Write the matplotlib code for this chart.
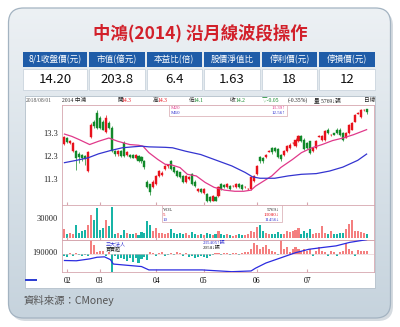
import numpy as np
import matplotlib
matplotlib.use('Agg')
import matplotlib.pyplot as plt
from matplotlib.patches import FancyBboxPatch, Rectangle
from matplotlib.colors import LinearSegmentedColormap

plt.rcParams['font.family'] = ['Noto Sans CJK TC', 'DejaVu Sans']

# summary table
headers = ['8/1收盤價(元)', '市值(億元)', '本益比(倍)', '股價淨值比', '停利價(元)', '停損價(元)']
values = ['14.20', '203.8', '6.4', '1.63', '18', '12']

# daily candles, late Jan 2018 -> 2018/08/01
opens = [12.80, 13.05, 12.85, 12.50, 12.50, 12.40, 12.35, 12.30, 11.65, 13.13,
         13.78, 14.15, 13.94, 13.78, 13.34, 13.73, 13.50, 12.50, 12.37, 12.50,
         12.87, 12.32, 12.36, 12.35, 12.20, 12.30, 12.24, 12.08, 11.20, 11.09,
         10.96, 11.09, 11.44, 11.50, 11.73, 11.87, 12.07, 11.81, 11.65, 11.60,
         11.43, 11.17, 11.30, 11.51, 11.20, 10.80, 10.87, 10.70, 10.66, 10.53,
         10.38, 10.53, 10.58, 11.09, 11.05, 10.96, 11.00, 11.00, 10.96, 11.09,
         11.05, 10.96, 10.87, 10.87, 11.23, 11.51, 12.24, 12.20, 12.24, 12.48,
         12.66, 12.66, 12.58, 12.36, 12.36, 12.50, 12.65, 12.85, 12.72, 12.93,
         13.14, 13.00, 12.87, 12.93, 12.50, 12.65, 13.13, 13.00, 13.00, 13.43,
         13.20, 13.27, 13.43, 13.43, 13.29, 13.07, 13.29, 13.43, 13.78, 14.12,
         13.99, 14.27, 14.30]
closes = [13.10, 12.90, 12.95, 12.87, 12.20, 12.25, 12.20, 12.15, 12.48, 13.64,
          13.57, 13.50, 13.50, 13.43, 13.94, 13.50, 12.50, 12.37, 12.50, 12.30,
          12.28, 12.45, 12.25, 12.23, 12.36, 12.08, 12.08, 11.81, 10.96, 10.75,
          11.20, 11.43, 11.65, 11.58, 11.85, 11.92, 11.73, 11.60, 11.44, 11.38,
          11.17, 11.43, 11.40, 11.09, 11.00, 10.87, 10.75, 10.87, 10.36, 10.36,
          10.59, 10.38, 10.96, 10.87, 10.96, 11.09, 10.87, 11.00, 11.09, 10.96,
          10.87, 10.97, 10.88, 11.38, 11.44, 11.87, 12.08, 12.08, 12.36, 12.50,
          12.45, 12.50, 12.24, 12.15, 12.50, 12.72, 12.79, 12.86, 13.00, 13.14,
          12.93, 12.58, 12.65, 12.44, 12.65, 12.93, 13.14, 13.14, 13.36, 13.29,
          13.21, 13.22, 13.29, 13.20, 13.00, 13.29, 13.64, 13.71, 14.06, 14.14,
          14.28, 14.28, 14.20]
highs = [13.15, 13.10, 13.00, 12.90, 12.55, 12.45, 12.40, 12.35, 12.50, 13.70,
         13.85, 14.28, 14.00, 13.85, 14.05, 13.80, 13.60, 12.55, 12.55, 12.55,
         12.95, 12.50, 12.40, 12.40, 12.40, 12.35, 12.30, 12.12, 11.25, 11.10,
         11.25, 11.50, 11.70, 11.65, 11.90, 11.95, 12.12, 11.85, 11.70, 11.62,
         11.48, 11.48, 11.45, 11.55, 11.25, 10.92, 10.90, 10.92, 10.70, 10.58,
         10.62, 10.56, 11.00, 11.15, 11.10, 11.12, 11.05, 11.05, 11.12, 11.12,
         11.10, 11.00, 10.92, 11.42, 11.50, 11.92, 12.30, 12.25, 12.40, 12.55,
         12.70, 12.70, 12.62, 12.40, 12.55, 12.75, 12.85, 12.90, 13.05, 13.20,
         13.20, 13.05, 12.90, 12.95, 12.70, 12.98, 13.20, 13.20, 13.40, 13.48,
         13.25, 13.30, 13.48, 13.48, 13.32, 13.32, 13.68, 13.75, 14.10, 14.20,
         14.30, 14.30, 14.30]
lows = [12.75, 12.85, 12.80, 12.45, 11.70, 12.00, 12.10, 11.90, 11.60, 13.05,
        13.50, 13.45, 13.45, 13.40, 13.30, 13.45, 12.45, 12.30, 12.30, 12.25,
        12.25, 12.28, 12.20, 12.20, 12.15, 12.05, 12.00, 11.75, 10.90, 10.60,
        10.90, 11.05, 11.40, 11.45, 11.70, 11.80, 11.70, 11.55, 11.40, 11.35,
        11.12, 11.15, 11.25, 11.05, 10.95, 10.75, 10.70, 10.65, 10.30, 10.30,
        10.35, 10.35, 10.55, 10.85, 10.90, 10.92, 10.85, 10.95, 10.92, 10.92,
        10.85, 10.92, 10.85, 10.85, 11.20, 11.50, 12.00, 12.00, 12.20, 12.45,
        12.40, 12.45, 12.20, 12.10, 12.30, 12.45, 12.60, 12.80, 12.70, 12.90,
        12.90, 12.55, 12.60, 12.40, 12.45, 12.60, 13.10, 12.95, 12.95, 13.25,
        13.15, 13.18, 13.25, 13.15, 12.95, 13.05, 13.25, 13.40, 13.75, 14.10,
        13.95, 14.25, 14.10]
volumes = [13300, 5900, 7400, 5900, 19200, 7400, 10300, 11800, 19200, 34000,
           26600, 44300, 11800, 14800, 26600, 17700, 45800, 5900, 7400, 4400,
           11800, 7400, 5900, 5900, 7400, 4400, 8900, 7400, 25100, 19200,
           10300, 14800, 7400, 7400, 5900, 7400, 13300, 7400, 5900, 7400,
           5900, 7400, 4400, 8900, 5900, 4400, 5900, 4400, 7400, 5900,
           4400, 5900, 10300, 5900, 4400, 5900, 4400, 3000, 4400, 5900,
           4400, 4400, 5900, 10300, 8900, 16300, 19200, 10300, 7400, 5900,
           5900, 5900, 8900, 5900, 5900, 10300, 8900, 10300, 11800, 14800,
           5900, 10300, 7400, 13300, 5900, 7400, 7400, 17700, 7400, 5900,
           10300, 5900, 5900, 7400, 7400, 13300, 20700, 26600, 10300, 10300,
           8900, 7400, 5769]
# institutional net buy/sell (lots)
chip_net = [-1400, -2100, 700, -1400, 700, -700, -1400, -700, -1400, 9100,
            5600, 1400, 2100, 2100, -1400, 2100, -13300, -1400, -3500, -2800,
            -3500, -4900, -2800, -5600, -2800, -6300, -3500, -2100, -4200, 2100,
            700, -1400, 700, 1400, -1400, -700, 700, -700, 1400, 700,
            -1400, 700, -2100, -1400, -2800, -2100, -1400, -2100, -2800, -1400,
            -700, 700, 700, -700, 700, 350, -700, 700, 700, -700,
            700, 1400, 1400, 3500, 7000, 5600, 3500, 4900, 5600, 3500,
            2100, 1400, -700, 9800, 3500, 4900, 1400, 3500, 4900, 3500,
            2100, 3500, 2100, 3500, -1400, 2100, 4900, 2100, 1400, -1400,
            2100, 1400, -1400, 1400, 2100, 7000, 3500, 2100, -1400, 2800,
            2100, 2100, 2058]

ma20_day = [0, 2.5, 5, 8.5, 11.5, 15, 18, 22, 25, 26.5, 28.5, 31.5, 34, 36, 39, 41.5, 44.5,
            47.5, 50.5, 54, 57.5, 60.5, 63, 64.5, 67, 70, 73, 77, 80, 83.5, 87, 90.5, 94,
            97.5, 102]
ma20_val = [13.24, 13.14, 13.00, 12.79, 12.93, 13.07, 12.93, 12.79, 12.76, 12.72, 12.44,
            12.15, 11.94, 11.92, 11.80, 11.51, 11.44, 11.16, 10.95, 10.83, 10.78, 10.78,
            10.83, 11.00, 11.20, 11.44, 11.80, 12.15, 12.44, 12.65, 12.79, 12.96, 13.07,
            13.21, 13.43]
ma60_day = [0, 4, 8, 11.5, 15.5, 19.5, 23, 26, 28.5, 34, 36.5, 41, 46, 50.5, 56.5, 61,
            63.5, 66, 71, 75.5, 80, 85, 89.5, 94, 99, 102]
ma60_val = [12.01, 12.11, 12.22, 12.39, 12.53, 12.65, 12.69, 12.72, 12.69, 12.67, 12.65,
            12.50, 12.36, 12.15, 11.87, 11.59, 11.40, 11.34, 11.34, 11.44, 11.51, 11.54,
            11.65, 11.82, 12.11, 12.38]
cum_day = [0, 4, 8.5, 11, 13.5, 15.5, 16.5, 22, 26, 28.5, 46.5, 56.5, 63, 64.5, 68, 73,
           78, 82.5, 87, 91.7, 96.3, 102]
cum_val = [161000, 160000, 166700, 172600, 174100, 164200, 148300, 143100, 139400,
           127300, 127300, 121000, 123600, 133500, 152000, 170400, 188900, 201100,
           207300, 213300, 225800, 235400]

month_labels = ['02', '03', '04', '05', '06', '07']
month_start = [1, 12, 31, 47, 65, 82]

W, H = 400, 327
RED, GREEN = '#e8121c', '#12892a'
VRED, VTEAL = '#f47f7f', '#18b4a6'
PINK, BLUE = '#e0398a', '#3434d0'
EDGE = '#d6a6ae'


def rect(x0, y0, x1, y1):
    return [x0 / W, 1 - y1 / H, (x1 - x0) / W, (y1 - y0) / H]


fig = plt.figure(figsize=(4, 3.27), dpi=100)
fig.patch.set_facecolor('white')

bg = fig.add_axes([0, 0, 1, 1])
bg.axis('off')

# card with shadow and gradient
shadow = FancyBboxPatch((11, 11), 382, 310, boxstyle='round,pad=0,rounding_size=15',
                        fc='#b9c3cc', ec='none', alpha=0.6)
bg.add_patch(shadow)
card = FancyBboxPatch((8.5, 8), 382, 310, boxstyle='round,pad=0,rounding_size=15',
                      fc='none', ec='#a3b3c1', lw=0.9, zorder=3)
bg.add_patch(card)
cm = LinearSegmentedColormap.from_list('card', ['#edf1f4', '#d9e2e9', '#c6d3dd'])
im = bg.imshow(np.linspace(0, 1, 256).reshape(-1, 1), extent=(8.5, 390.5, 318, 8),
               cmap=cm, aspect='auto', zorder=1)
im.set_clip_path(card)
bg.set_xlim(0, W)
bg.set_ylim(H, 0)

bg.text(200, 33.5, '中鴻(2014) 沿月線波段操作', color='#d2202a', fontsize=12.5,
        fontweight='bold', ha='center', va='center', zorder=4)

cells = [(23.3, 87.3), (89.3, 145), (147, 201.7), (204, 260), (262.3, 316.7), (319, 375)]
for (a, b), h, v in zip(cells, headers, values):
    bg.add_patch(Rectangle((a, 51.5), b - a, 15.5, fc='#1f5ca8', ec='none', zorder=4))
    bg.add_patch(Rectangle((a, 68.8), b - a, 21, fc='white', ec='#c3ced8', lw=0.5, zorder=4))
    bg.text((a + b) / 2, 59.3, h, color='white', fontsize=6.2, ha='center', va='center', zorder=5)
    bg.text((a + b) / 2, 79.5, v, color='#111111', fontsize=9.5, ha='center', va='center', zorder=5)

# white chart panel
bg.add_patch(Rectangle((25, 96), 350, 191.5, fc='white', ec='#b4c0ca', lw=0.6, zorder=4))
bg.add_patch(Rectangle((25, 279), 12, 2.2, fc='#2f3fd2', ec='none', zorder=5))

bg.text(23, 300, '資料來源：CMoney', color='#555555', fontsize=7.5, ha='left', va='center', zorder=5)

serif = ['Liberation Serif', 'Noto Sans CJK TC', 'DejaVu Sans']
fs = 4.1
info = [(26, '2018/08/01', '#555555'), (62, '2014 中鴻', '#222222'),
        (117, '開', '#222222'), (122, '14.3', RED), (153, '高', '#222222'), (158, '14.3', RED),
        (189, '低', '#222222'), (194, '14.1', GREEN), (230, '收', '#222222'), (235, '14.2', GREEN),
        (262, '▽-0.05', GREEN), (288, '(-0.35%)', '#222222'), (314, '量 5769↓張', '#222222'),
        (364, '日線', '#222222')]
for xx, s, c in info:
    bg.text(xx, 100.5, s, color=c, fontsize=fs, family=serif, ha='left', va='center', zorder=5)

n = len(opens)
idx = np.arange(n)
o = np.array(opens)
c = np.array(closes)
up = c >= o
ccol = [RED if u else GREEN for u in up]
vcol = [VRED if u else VTEAL for u in up]

ax_p = fig.add_axes(rect(61.5, 105, 374, 205))
ax_v = fig.add_axes(rect(61.5, 205, 374, 240))
ax_c = fig.add_axes(rect(61.5, 240, 374, 272))
for ax in (ax_p, ax_v, ax_c):
    ax.set_xlim(-1.0, n + 1.5)
    for sp in ax.spines.values():
        sp.set_color(EDGE)
        sp.set_linewidth(0.6)
    ax.tick_params(axis='y', length=0, pad=2.5, labelsize=6, labelcolor='#222222')
    ax.set_xticks(month_start)
    ax.tick_params(axis='x', direction='in', length=2, color=EDGE, labelbottom=False)

# price
ax_p.vlines(idx, lows, highs, colors=ccol, lw=0.5)
ax_p.bar(idx, c - o, bottom=o, width=0.7, color=ccol, edgecolor=ccol, linewidth=0.3)
ax_p.plot(ma20_day, ma20_val, color=PINK, lw=0.9)
ax_p.plot(ma60_day, ma60_val, color=BLUE, lw=0.9)
ax_p.set_ylim(10.19, 14.49)
ax_p.set_yticks([11.3, 12.3, 13.3])
ax_p.set_yticklabels(['11.3', '12.3', '13.3'], family=serif)

# volume
ax_v.bar(idx, volumes, width=0.7, color=vcol, linewidth=0)
ax_v.set_ylim(-2500, 49200)
ax_v.set_yticks([30000])
ax_v.set_yticklabels(['30000'], family=serif)

# institutional flow
ax_c.plot(cum_day, cum_val, color='#2b2be0', lw=0.9, zorder=3)
ax_c.set_ylim(119870, 234300)
ax_c.set_yticks([190000])
ax_c.set_yticklabels(['190000'], family=serif)
ax_cb = ax_c.twinx()
ax_cb.bar(idx, chip_net, width=0.7, color=[VRED if v > 0 else VTEAL for v in chip_net], linewidth=0)
ax_cb.axhline(0, color='#e5c4c9', lw=0.4)
ax_cb.set_ylim(-12390, 9310)
ax_cb.set_yticks([])
ax_cb.set_xlim(-1.0, n + 1.5)
for sp in ax_cb.spines.values():
    sp.set_visible(False)
ax_c.set_zorder(ax_cb.get_zorder() + 1)
ax_c.patch.set_visible(False)
ax_c.tick_params(axis='x', labelbottom=True, labelsize=5.5, pad=3.5)
ax_c.set_xticklabels(month_labels, family=serif)


def ftext(x, y, s, **kw):
    fig.text(x, y, s, transform=bg.transData, zorder=6, family=serif, fontsize=3.6,
             va='center', **kw)


# MA legend box
fig.add_artist(Rectangle((169, 105), 118, 10.5, transform=bg.transData, fc='white',
                         ec=EDGE, lw=0.5, zorder=5))
ftext(171, 108, 'M20', color=PINK)
ftext(171, 112.6, 'M60', color=BLUE)
ftext(285, 108, '13.39↑', color=PINK, ha='right')
ftext(285, 112.6, '12.56↑', color=BLUE, ha='right')

# volume legend box
fig.add_artist(Rectangle((161.5, 205.3), 120, 17, transform=bg.transData, fc='white',
                         ec=EDGE, lw=0.5, zorder=5))
ftext(163, 210, 'VOL', color='#222222')
ftext(163, 215, '5', color=RED)
ftext(163, 220, '10', color=BLUE)
ftext(279, 210, '5769↓', color='#222222', ha='right')
ftext(279, 215, '13080↓', color=RED, ha='right')
ftext(279, 220, '11456↓', color=BLUE, ha='right')

# chip legend box
fig.add_artist(Rectangle((104, 240.5), 128, 11, transform=bg.transData, fc='white',
                         ec='none', lw=0.5, zorder=5))
ftext(106, 243.5, '三大法人', color=BLUE)
ftext(106, 248.3, '買賣超', color='#222222')
ftext(203, 243.5, '235405↑張', color=BLUE)
ftext(203, 248.3, '2058↓張', color='#222222')

fig.savefig('out.png', dpi=100)
